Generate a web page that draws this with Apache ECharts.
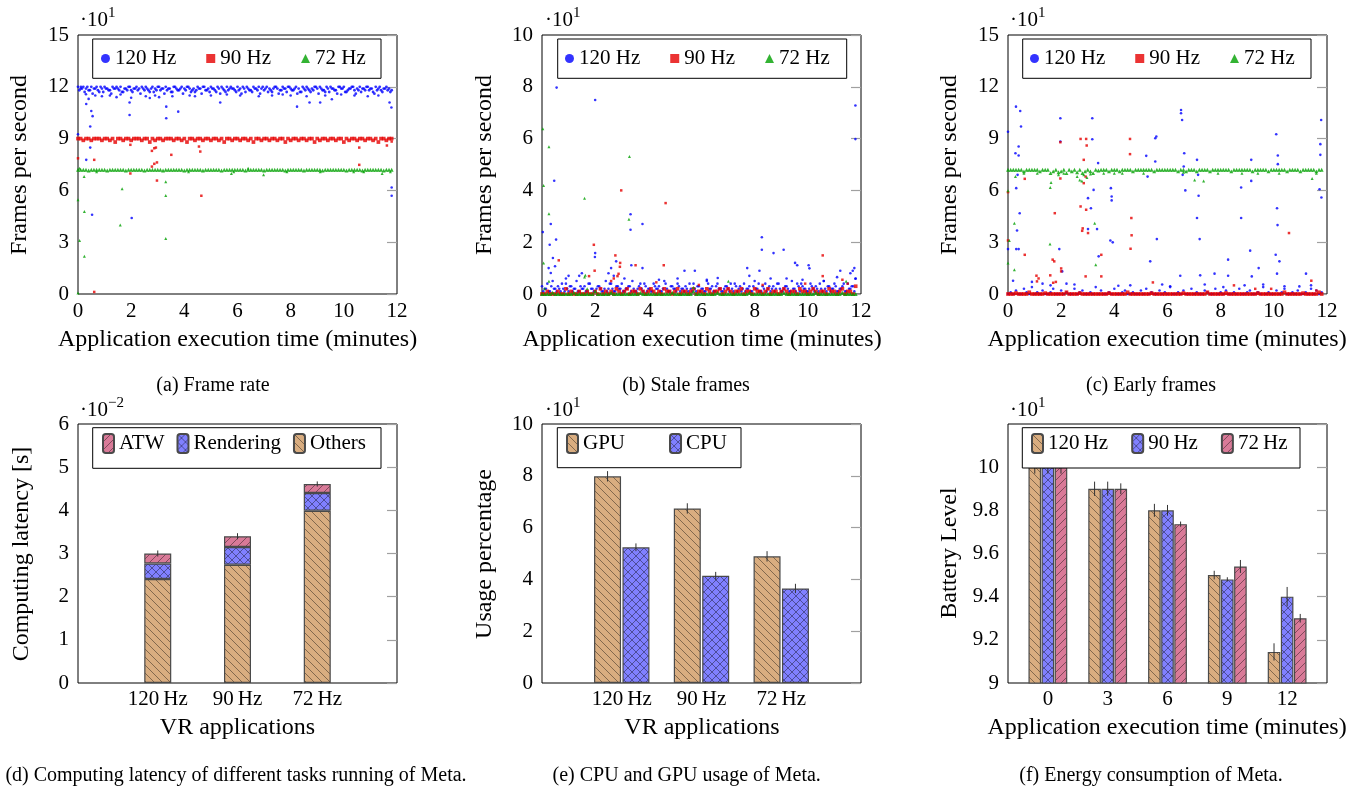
<!DOCTYPE html>
<html><head><meta charset="utf-8">
<script src="https://cdn.jsdelivr.net/npm/echarts@6/dist/echarts.min.js"></script>
<style>html,body{margin:0;padding:0;background:#fff}#c{width:1360px;height:787px}</style>
</head><body><div id="c"></div>
<script>
// ---------------- DATA ----------------
const T_STEP = 0.1;   // sampling interval of the dense bands (minutes)
const T_OFF2 = 0.05;  // start of the interleaved second band samples (minutes)
// (a) Frame rate
const a120Band = [120,119,120,119,118,120,119,120,117,119,120,119,118,120,119,119,120,117,119,120,118,119,120,119,120,118,119,117,120,119,120,118,119,120,119,117,120,119,118,120,119,120,119,118,117,120,119,120,118,119,120,119,117,119,120,118,120,119,119,118,120,119,120,117,119,118,120,119,120,119,118,120,119,117,120,119,118,120,119,120,119,118,120,119,117,119,120,118,119,120,119,120,118,117,119,120,119,118,120,119,120,117,119,120,118,119,120,119,118,120,119,117,120,119,118,119,120,119,118];
const a120Band2 = [118,119,117,120,118,116,119,118,120,117,119,118,116,119,120,118,117,119,118,120,117,119,118,116,119,120,118,119,117,118,120,119,116,118,119,117,120,118,119,116,118,120,117,119,118,119,116,120,118,117,119,118,120,116,119,117,118,120,119,117,118,116,119,120,118,117,119,118,116,120,119,117,118,119,120,116,118,119,117,120,118,119,116,117,120,118,119,117,118,120,116,119,118,120,117,119,118,116,120,119,117,118,119,120,116,118,117,119,120,118,119,116,118,120,117,119,118,117];
const a120Out = [[0,92.5],[0.11,120],[0.3,115.7],[0.31,110],[0.4,113],[0.46,97],[0.46,84.8],[0.5,106],[0.55,103],[0.31,77.7],[0.53,45.9],[1.94,110.9],[1.94,103.7],[2.0,113.7],[2.02,44],[3.32,108.5],[3.32,101.8],[3.77,105.6],[5.35,110.9],[8.24,108.5],[8.71,110.9],[9.11,110.9],[9.55,112.8],[11.72,110.9],[11.79,108],[11.8,61.7],[11.8,56.9],[0.65,115],[0.9,114.5],[1.2,115],[1.45,114],[1.6,115.5],[2.55,114.5],[2.7,113.5],[2.9,115],[3.05,114],[3.55,114.5],[4.2,115],[4.4,114.5],[5.0,115],[5.6,115.5],[6.1,115],[6.8,114.5],[7.3,115],[7.7,115.5],[8.0,115],[8.6,114.5],[9.3,115],[9.9,115.5],[10.4,115],[10.9,114.5],[11.3,115]];
const a90Band = [90,90,89,90,90,89,90,90,90,89,90,90,89,90,88,90,90,89,90,90,89,90,90,90,89,90,90,88,90,89,90,90,89,90,90,90,89,90,90,89,90,88,90,90,89,90,90,89,90,90,89,90,90,89,90,88,90,90,89,90,90,89,90,90,89,90,88,90,90,89,90,90,89,90,90,89,90,90,88,90,89,90,90,89,90,90,89,90,90,88,90,89,90,90,89,90,90,89,90,90,88,90,89,90,90,89,90,90,89,90,90,89,90,88,90,90,89,90,90];
const a90Out = [[0,78.6],[0.61,77.7],[0.61,1.2],[1.97,86.4],[1.97,69.8],[2.78,82.9],[2.87,84.4],[2.93,84.8],[2.78,73.8],[2.87,75.4],[2.97,76.2],[2.97,65.7],[3.51,80.6],[4.55,85.4],[4.6,82.5],[4.64,56.9],[10.58,84.8],[10.58,74.8],[11.62,86],[11.8,88.3]];
const a72Band = [72,72,72,72,71.5,72,72,72,72,72,72,71.5,72,72,72,72,72,72,71.5,72,72,72,72,72,72,71.5,72,72,72,72,72,72,71.5,72,72,72,72,72,72,72,71.5,72,72,72,72,72,72,71.5,72,72,72,72,72,72,71.5,72,72,72,72,72,72,72,72,71.5,72,72,72,72,72,72,71.5,72,72,72,72,72,72,72,71.5,72,72,72,72,72,72,71.5,72,72,72,72,72,72,71.5,72,72,72,72,72,72,72,72,71.5,72,72,72,72,72,71.5,72,72,72,72,72,72,72,71.5,72,72,72];
const a72Out = [[0,54.6],[0.06,72.9],[0.06,31],[0.23,68],[0.24,47.8],[0.24,21.8],[0,0.6],[0.7,70.8],[1.66,60.9],[1.59,39.9],[3.3,65],[3.3,57],[3.3,32.2],[4.16,70.8],[5.77,69.8],[5.86,70.8],[6.4,72.9],[6.98,69],[7.86,70.8],[9.11,70.8],[10.37,70.8],[10.75,70.8],[11.44,69.8],[11.75,70.8]];
// (b) Stale frames
const b120Band = [3,2,4,1,5,2,3,1,2,4,1,3,2,5,1,2,3,1,4,2,1,3,2,1,5,2,4,1,3,2,4,1,2,3,5,1,2,4,1,3,2,1,4,2,3,1,5,2,1,3,2,4,1,2,3,1,2,4,1,3,2,1,5,2,3,1,4,2,1,3,2,4,1,3,2,1,4,2,3,1,5,2,1,3,4,2,1,3,2,4,1,2,3,1,5,2,4,1,3,2,1,4,2,3,1,2,5,1,3,2,4,1,2,3,1,4,2,3,6];
const b120Band2 = [1,2,1,3,2,1,2,4,1,2,3,1,2,1,3,2,1,4,2,1,2,3,1,2,1,4,2,1,3,2,1,2,3,1,2,1,3,2,4,1,2,1,3,2,1,2,4,1,3,2,1,3,2,1,2,4,1,2,3,1,2,1,4,2,1,3,2,1,2,3,1,2,4,1,3,2,1,2,1,3,2,4,1,2,1,3,2,1,4,2,1,3,2,1,2,1,3,4,2,1,2,3,1,2,4,1,2,3,1,2,3,1,2,4,1,2,3,1];
const b120Out = [[0.55,79.7],[2.0,74.9],[11.79,72.8],[11.79,59.8],[0.03,23.9],[0.46,43.7],[0.33,27],[0.29,19],[0.53,21],[3.33,30.8],[3.33,24.8],[3.78,27],[8.27,21.9],[8.27,17.1],[8.71,15.8],[9.09,17.1],[9.52,12],[9.6,11.1],[10.03,11.1],[10.06,9.9],[2.0,15.8],[1.99,14.3],[0.41,13.9],[0.49,10.7],[0.25,10],[0.33,8.1],[3.36,11.1],[3.78,10],[2.6,10],[2.79,12.6],[7.72,10],[8.18,9],[11.22,9],[11.69,9],[11.75,10],[11.79,5.9],[5.75,9],[5.36,9],[6.61,6.2],[1.5,8],[1.4,7],[0.9,6],[1.0,7],[2.5,8],[2.7,7],[3.1,6],[4.4,5.5],[5.1,6],[6.2,5.5],[7.8,7],[8.6,6],[9.2,6],[9.8,5.5],[10.6,5],[11.1,6.5],[11.6,8]];
const b90Band = [0,0,1,0,0,0,1,0,0,2,0,1,0,0,1,0,0,1,0,0,1,0,2,0,1,0,1,0,2,1,0,1,2,0,1,1,0,2,1,0,1,2,1,0,1,0,2,1,1,0,1,2,0,1,1,0,1,2,0,1,1,0,2,1,0,1,1,2,0,1,2,1,0,1,1,2,0,1,1,0,2,1,1,0,1,2,0,1,1,0,1,2,1,0,1,1,0,2,1,1,0,1,2,1,0,1,1,0,2,1,1,0,1,2,0,1,1,0,3];
const b90Out = [[0,0],[0.63,13],[1.95,19],[1.98,9],[1.77,6.9],[2.76,14.9],[2.84,6.9],[2.88,7.8],[2.94,12],[2.98,40],[2.93,10.5],[3.52,11.1],[4.65,35.1],[4.58,11.1],[10.56,14.9],[10.56,6.9],[11.5,4],[2.6,5],[2.7,6],[4.3,4.5],[5.9,3.5],[8.3,3.5],[9.9,4],[11.3,5.5]];
const b72Band = [0,0,0,0,0.5,0,0,0,0,0,0,0,0.5,0,0,0,0,0,0,0,1,0,0,0,0,0,0.5,0,0,0,0,0,0,0,0,0,0,0.5,0,0,0,0,0,0,0,0,0,0,0,0.5,0,0,0,0,0,0,0,1,0,0,0,0,0,0,0,0,0.5,0,0,0,0,0,0,0,0,0,0,0,0.5,0,0,0,0,0,0,0,0,0,0,0,0,0.5,0,0,0,0,0,0,0,0,0,0,0,0.5,0,0,0,0,0,0,0,0,0,0.5,0,0,0,0,0];
const b72Out = [[0.03,63.8],[0.06,41.9],[0.06,12],[0.26,56.9],[0.26,31],[0.26,4.9],[1.6,37],[1.6,6.6],[1.63,7.2],[3.29,53.1],[3.27,28.9],[7.01,4.9],[11.44,4.9],[0.1,2],[1.7,2],[5.7,2.5]];
// (c) Early frames
const c120Band = [0,1,0,2,0,0,3,1,0,4,0,1,0,2,0,0,1,3,0,0,2,0,1,0,0,3,0,1,2,0,0,1,0,4,0,2,0,0,1,0,3,0,0,1,2,0,0,1,0,0,2,0,3,0,1,0,0,2,0,1,0,4,0,0,1,0,2,0,0,3,0,1,0,0,2,1,0,0,3,0,1,0,2,0,0,1,0,3,0,0,1,2,0,0,1,0,4,0,1,0,0,2,0,1,3,0,0,1,0,2,0,0,1,0,3,0,2,0,1];
const c120Out = [[0,94],[0.3,108.5],[0.46,106],[0.49,97],[0.4,85.4],[0.4,80.2],[0.28,81.5],[0.31,61.3],[0.36,69],[0.34,36.8],[0.31,26],[0.4,26],[0.44,46.8],[0,26],[0.19,7.7],[1.97,101.8],[1.97,88.3],[1.93,26],[2.04,13.1],[3.17,101.8],[3.17,89.6],[3.39,75.8],[3.22,60.3],[3.01,55.5],[3.12,49.7],[3.01,37.6],[3.35,37.6],[3.41,21.8],[3.85,31],[3.94,29.9],[3.9,56.5],[3.9,54.2],[3.87,61.3],[4.15,4.8],[5.2,80],[5.25,68],[5.54,90.2],[5.58,91.2],[5.54,76.7],[5.6,31.8],[5.35,18.9],[6.51,106.6],[6.51,104.7],[6.55,100.8],[6.63,81.5],[6.61,73.8],[6.57,69],[6.67,60],[6.48,10.6],[7.11,77.7],[7.15,69],[7.17,56.9],[7.11,44],[7.21,31.8],[7.23,10.8],[7.77,11.8],[8.28,19.9],[8.28,10.6],[8.77,61.7],[8.77,44],[9.15,77.7],[9.15,65.5],[9.11,25.1],[9.17,10.2],[9.43,15],[10.09,92.5],[10.15,80.2],[10.15,75.2],[10.12,49.7],[10.14,39.9],[10.07,22.7],[10.21,18.9],[10.12,11.8],[11.21,11.8],[10.96,4.4],[11.78,100.8],[11.75,86.8],[11.75,80.6],[11.72,60.7],[11.79,55.9],[0.9,7],[1.3,6],[1.6,5],[2.2,6],[2.5,5.5],[4.6,5],[5.8,5.5],[6.1,4.5],[7.4,5.5],[8.1,4],[8.9,5],[9.6,5.5],[10.4,4.5],[11.4,5]];
const c90Band = [0,0,0,0.5,0,0,0,0,1,0,0,0,0,0,0.5,0,0,0,0,0,0,0,1,0,0,0,0,0.5,0,0,0,0,0,0,0,0,0,0,0.5,0,0,0,0,0,0,1,0,0,0,0,0,0,0,0,0.5,0,0,0,0,0,0,0,0,0,0,0,0.5,0,0,0,0,0,0,0,0,1,0,0,0,0,0,0,0.5,0,0,0,0,0,0,0,0,0,0,0,0.5,0,0,0,0,0,0,0,0,0,1,0,0,0,0,0,0,0.5,0,0,0,0,0,1,0];
const c90Out = [[0,59],[0,31],[0.63,66.7],[0.63,22.7],[1.07,10.6],[1.09,7.3],[1.15,9],[1.59,10.8],[1.68,19.9],[1.76,46.8],[1.74,18.9],[1.97,87.9],[1.97,66.9],[2.0,14.8],[2.0,13.1],[2.73,89.8],[2.94,89.8],[2.96,86],[2.85,77.7],[2.92,68],[2.85,64.2],[2.73,50.7],[2.94,48.8],[2.81,38],[2.79,36.6],[3.01,35.3],[2.92,10.2],[3.51,22.7],[3.51,10.2],[4.59,89.8],[4.59,81],[4.64,44],[4.65,34],[4.61,26.2],[5.45,6.7],[10.57,35.3],[11.41,7.7],[1.7,6.5],[1.8,7],[8.5,5],[9.3,3],[9.9,3],[11.6,2]];
const c72Band = [72,72,72,72,72,72,71,72,72,72,72,72,71,72,72,72,70,71,72,70.5,71,72,70,72,71,72,70.5,72,70,71,72,71,70,72,71.5,72,72,72,71,72,72,72,71,72,72,72,72,71,72,72,72,72,72,72,72,71,72,72,72,72,72,72,72,72,71,72,72,71,72,72,72,71,72,72,72,72,71,72,72,72,72,72,72,72,71,72,72,72,72,72,72,72,71,72,72,72,72,72,71,72,72,72,72,72,72,71,72,72,72,72,71,72,72,72,72,72,71,72,72];
const c72Out = [[0,59.8],[0.05,31],[0,17.9],[0.24,41],[0.24,14],[0.28,68],[1.59,61.7],[1.62,64.6],[1.58,28.9],[2.78,65.5],[2.85,69],[2.97,67.5],[3.26,41],[3.3,17],[7.36,65.5],[11.44,66.9],[0.6,70],[1.1,70],[1.9,69],[2.1,70],[2.6,68],[2.7,66],[3.1,69.5],[3.6,70],[4.0,70],[4.3,70],[5.1,70],[6.6,70.5],[7.02,66],[7.9,70],[8.8,70],[9.4,70],[10.2,70],[11.6,70]];
// (d) Computing latency [s]
const appCats = ['120\u2009Hz', '90\u2009Hz', '72\u2009Hz'];
const latOthers = [0.0241, 0.0274, 0.0399];
const latRendering = [0.0036, 0.0041, 0.0041];
const latATW = [0.0023, 0.0025, 0.0021];
const latErr = [0.0007, 0.0007, 0.0006];
// (e) Usage percentage
const usageGPU = [79.8, 67.4, 48.9];
const usageCPU = [52.4, 41.4, 36.5];
const usageGPUErr = [2, 2, 2];
const usageCPUErr = [1.5, 1.5, 1.8];
// (f) Battery level
const timeCats = [0, 3, 6, 9, 12];
const bat120 = [100, 99, 98, 95, 91.44];
const bat90 = [100, 99, 98, 94.8, 94];
const bat72 = [100, 99, 97.36, 95.4, 93];
const bat120Err = [0.3, 0.33, 0.3, 0.2, 0.4];
const bat90Err = [0.3, 0.33, 0.25, 0.1, 0.45];
const bat72Err = [0.3, 0.25, 0.12, 0.3, 0.2];

// ---------------- STYLE ----------------
const FONT = 'Liberation Serif';
const C_BLUE = '#0000ff', C_RED = '#e60000', C_GREEN = '#00a000';
const TAN = '#d9ad80', BLUEF = '#8080ff', PINK = '#d97a98';
function makePattern(base, kind) {
  const s = 8, c = document.createElement('canvas'); c.width = s; c.height = s;
  const x = c.getContext('2d'); x.fillStyle = base; x.fillRect(0, 0, s, s);
  x.strokeStyle = 'rgba(0,0,0,0.5)'; x.lineWidth = 0.8; x.beginPath();
  if (kind === 'nw' || kind === 'cross') for (let k = -1; k <= 1; k++) { x.moveTo(k * s, 0); x.lineTo(k * s + s, s); }
  if (kind === 'ne' || kind === 'cross') for (let k = -1; k <= 1; k++) { x.moveTo(k * s, s); x.lineTo(k * s + s, 0); }
  x.stroke();
  return { image: c, repeat: 'repeat' };
}
const P_TAN = makePattern(TAN, 'nw'), P_BLUE = makePattern(BLUEF, 'cross'), P_PINK = makePattern(PINK, 'ne');
const band = (vals, t0) => vals.map((v, i) => [Math.round(((t0 || 0) + i * T_STEP) * 100) / 100, v]);

const GL = [78, 542, 1008], GT = [35, 424], GW = 319, GH = 259;
const grids = [];
for (let r = 0; r < 2; r++) for (let c = 0; c < 3; c++)
  grids.push({ left: GL[c], top: GT[r], width: GW, height: GH, show: true, borderColor: '#000', borderWidth: 1, backgroundColor: 'transparent' });

const lblStyle = { fontFamily: FONT, fontSize: 21, color: '#000' };
function xAx(g, extra) {
  return Object.assign({ type: 'value', gridIndex: g, axisLine: { show: false }, axisTick: { show: false }, splitLine: { show: false } }, extra);
}
const xAxes = [
  xAx(0, { min: 0, max: 12, interval: 2, axisLabel: Object.assign({ margin: 7 }, lblStyle) }),
  xAx(1, { min: 0, max: 12, interval: 2, axisLabel: Object.assign({ margin: 7 }, lblStyle) }),
  xAx(2, { min: 0, max: 12, interval: 2, axisLabel: Object.assign({ margin: 7 }, lblStyle) }),
  xAx(3, { type: 'category', data: [''].concat(appCats, ['']), boundaryGap: false, axisLabel: Object.assign({ margin: 6, interval: 0 }, lblStyle) }),
  xAx(4, { min: 0, max: 4, axisLabel: Object.assign({ margin: 6, customValues: [1, 2, 3], formatter: v => appCats[Math.round(v) - 1] }, lblStyle) }),
  xAx(5, { min: -2, max: 14, axisLabel: Object.assign({ margin: 6, customValues: timeCats, formatter: v => String(v) }, lblStyle) }),
];
const yRanges = [
  { min: 0, max: 150, interval: 30, f: v => String(v / 10) },
  { min: 0, max: 100, interval: 20, f: v => String(v / 10) },
  { min: 0, max: 150, interval: 30, f: v => String(v / 10) },
  { min: 0, max: 0.06, interval: 0.01, f: v => String(Math.round(v * 100)) },
  { min: 0, max: 100, interval: 20, f: v => String(v / 10) },
  { min: 90, max: 102, interval: 2, f: v => (v > 100.5 ? '' : String(Math.round(v) / 10)) },
];
const yAxes = [];
yRanges.forEach((r, g) => {
  yAxes.push({ type: 'value', gridIndex: g, min: r.min, max: r.max, interval: r.interval, axisLine: { show: false }, axisTick: { show: false }, splitLine: { show: false },
    axisLabel: Object.assign({ margin: 9, formatter: r.f }, lblStyle) });
  yAxes.push({ type: 'value', gridIndex: g, position: 'right', min: r.min, max: r.max, interval: r.interval, axisLine: { show: false }, splitLine: { show: false },
    axisLabel: { show: false }, axisTick: { show: true, inside: true, length: 10, lineStyle: { color: '#a0a0a0', width: 1.2 } } });
});

const series = [];
function scat(g, name, data, color, symbol, size) {
  series.push({ type: 'scatter', name: name, xAxisIndex: g, yAxisIndex: 2 * g, data: data, symbol: symbol, symbolSize: size,
    itemStyle: { color: color }, silent: true, clip: true });
}
const tags = ['a', 'b', 'c'];
const scatDefs = [
  [[[a120Band, 0], [a120Band2, T_OFF2]], a120Out, 2.8, [[a90Band, 0]], a90Out, [[a72Band, 0]], a72Out],
  [[[b120Band, 0], [b120Band2, T_OFF2]], b120Out, 2.6, [[b90Band, 0]], b90Out, [[b72Band, 0]], b72Out],
  [[[c120Band, 0]], c120Out, 2.6, [[c90Band, 0]], c90Out, [[c72Band, 0]], c72Out],
];
scatDefs.forEach((d, g) => {
  const t = '#' + tags[g];
  const bandsOf = list => list.reduce((acc, b) => acc.concat(band(b[0], b[1])), []);
  scat(g, '120 Hz' + t, bandsOf(d[0]), C_BLUE, 'circle', d[2]);
  scat(g, '120 Hz' + t, d[1], C_BLUE, 'circle', 2.6);
  scat(g, '90 Hz' + t, bandsOf(d[3]), C_RED, 'rect', 3.7);
  scat(g, '90 Hz' + t, d[4], C_RED, 'rect', 2.5);
  scat(g, '72 Hz' + t, bandsOf(d[5]), C_GREEN, 'triangle', 3.9);
  scat(g, '72 Hz' + t, d[6], C_GREEN, 'triangle', 3);
});
const barBorder = { borderColor: '#4a4a4a', borderWidth: 1.2 };
// (d) stacked (category axis)
[['Others', latOthers, P_TAN], ['Rendering', latRendering, P_BLUE], ['ATW', latATW, P_PINK]].forEach(([n, arr, p]) => {
  series.push({ type: 'bar', name: n, xAxisIndex: 3, yAxisIndex: 6, stack: 'lat', barWidth: 27,
    data: [null].concat(arr, [null]), itemStyle: Object.assign({ color: p }, barBorder), silent: true });
});
// (e)
const BW_E = 27, GAP_E = 1.4;
series.push({ type: 'bar', name: 'GPU', xAxisIndex: 4, yAxisIndex: 8, barWidth: BW_E, barGap: (GAP_E / BW_E * 100) + '%',
  data: usageGPU.map((v, i) => [i + 1, v]), itemStyle: Object.assign({ color: P_TAN }, barBorder), silent: true });
series.push({ type: 'bar', name: 'CPU', xAxisIndex: 4, yAxisIndex: 8, barWidth: BW_E, barGap: (GAP_E / BW_E * 100) + '%',
  data: usageCPU.map((v, i) => [i + 1, v]), itemStyle: Object.assign({ color: P_BLUE }, barBorder), silent: true });
// (f)
const BW_F = 12.6, GAP_F = 0.5;
[['120 Hz#f', bat120, P_TAN], ['90 Hz#f', bat90, P_BLUE], ['72 Hz#f', bat72, P_PINK]].forEach(([n, arr, p]) => {
  series.push({ type: 'bar', name: n, xAxisIndex: 5, yAxisIndex: 10, barWidth: BW_F, barGap: (GAP_F / BW_F * 100) + '%',
    data: arr.map((v, i) => [timeCats[i], v]), itemStyle: Object.assign({ color: p }, barBorder), silent: true });
});
// error bars
function errSeries(g, data, offsets) {
  series.push({ type: 'custom', xAxisIndex: g, yAxisIndex: 2 * g, silent: true, z: 3, encode: { x: 0, y: 1 }, data: data,
    renderItem: (params, api) => {
      const x = api.value(0), v = api.value(1), e = api.value(2), s = api.value(3);
      const lo = api.coord([x, v - e]), hi = api.coord([x, v + e]);
      const dx = offsets[s];
      return { type: 'line', shape: { x1: lo[0] + dx, y1: lo[1], x2: hi[0] + dx, y2: hi[1] }, style: { stroke: '#333', lineWidth: 1 } };
    } });
}
errSeries(3, latOthers.map((v, i) => [i + 1, v + latRendering[i] + latATW[i], latErr[i], 0]), [0]);
const oE = (BW_E + GAP_E) / 2;
errSeries(4, usageGPU.map((v, i) => [i + 1, v, usageGPUErr[i], 0]).concat(usageCPU.map((v, i) => [i + 1, v, usageCPUErr[i], 1])), [-oE, oE]);
const oF = BW_F + GAP_F;
errSeries(5, bat120.map((v, i) => [timeCats[i], v, bat120Err[i], 0]).concat(bat90.map((v, i) => [timeCats[i], v, bat90Err[i], 1]), bat72.map((v, i) => [timeCats[i], v, bat72Err[i], 2])), [-oF, 0, oF]);

// legends
const legTxt = { fontFamily: FONT, fontSize: 21, color: '#000' };
function leg(left, top, names, gap, iw, ih) {
  return { left: left, top: top, padding: 0, itemGap: gap, itemWidth: iw, itemHeight: ih, data: names, textStyle: legTxt,
    formatter: n => { const b = n.split('#')[0]; return n.endsWith('#f') ? b.replace(' ', '\u2009') : b; },
    selectedMode: false, z: 10 };
}
const legends = [
  leg(101, 48, ['120 Hz#a', '90 Hz#a', '72 Hz#a'], 30, 9, 9),
  leg(565, 48, ['120 Hz#b', '90 Hz#b', '72 Hz#b'], 30, 9, 9),
  leg(1030, 48, ['120 Hz#c', '90 Hz#c', '72 Hz#c'], 30, 9, 9),
  leg(102, 433, ['ATW', 'Rendering', 'Others'], 12, 11, 19),
  leg(566, 433, ['GPU', 'CPU'], 44, 11, 19),
  leg(1031, 433, ['120 Hz#f', '90 Hz#f', '72 Hz#f'], 23, 11, 19),
];

// graphic: legend boxes, titles, multipliers, captions
const G = [];
[[92.7, 39, 288.3, 39.3], [557.7, 39, 289, 39.3], [1022.7, 39, 288.3, 39.3], [92.7, 427.7, 288.3, 40.6], [557.3, 427.7, 183.7, 40], [1022.3, 427.7, 277.7, 40.3]]
  .forEach(b => G.push({ type: 'rect', z: 5, shape: { x: b[0], y: b[1], width: b[2], height: b[3] }, style: { fill: '#fff', stroke: '#000', lineWidth: 1 } }));
function txt(text, x, y, size, align, rot) {
  G.push({ type: 'text', z: 6, x: x, y: y, rotation: rot || 0,
    style: { text: text, fontFamily: FONT, fontSize: size, fill: '#000', textAlign: align || 'center', textVerticalAlign: 'middle', align: align || 'center', verticalAlign: 'middle' } });
}
const yTitles = [['Frames per second', 20, 165], ['Frames per second', 485, 165], ['Frames per second', 950, 165],
  ['Computing latency [s]', 21.7, 554], ['Usage percentage', 485, 554], ['Battery Level', 950, 553]];
yTitles.forEach(t => txt(t[0], t[1], t[2], 24, 'center', Math.PI / 2));
const xTitles = [['Application execution time (minutes)', 237.5, 340], ['Application execution time (minutes)', 702, 340], ['Application execution time (minutes)', 1167, 340],
  ['VR applications', 237.5, 728], ['VR applications', 702, 728], ['Application execution time (minutes)', 1167, 728]];
xTitles.forEach(t => txt(t[0], t[1], t[2], 24, 'center'));
const mults = [[80, 20, '1'], [545, 20, '1'], [1010, 20, '1'], [80, 410, '\u22122'], [545, 410, '1'], [1010, 410, '1']];
mults.forEach(m => { txt('\u00b710', m[0], m[1], 21, 'left'); txt(m[2], m[0] + 28, m[1] - 7, 15, 'left'); });
const caps = [['(a) Frame rate', 213, 385.5], ['(b) Stale frames', 686, 385.5], ['(c) Early frames', 1151, 385.5],
  ['(d) Computing latency of different tasks running of Meta.', 236, 776], ['(e) CPU and GPU usage of Meta.', 686.7, 776], ['(f) Energy consumption of Meta.', 1151, 776]];
caps.forEach(c => txt(c[0], c[1], c[2], 20, 'center'));

const chart = echarts.init(document.getElementById('c'), null, { renderer: 'canvas' });
chart.setOption({
  animation: false, backgroundColor: '#fff',
  grid: grids, xAxis: xAxes, yAxis: yAxes, series: series, legend: legends,
  graphic: { elements: G }
});
</script></body></html>
